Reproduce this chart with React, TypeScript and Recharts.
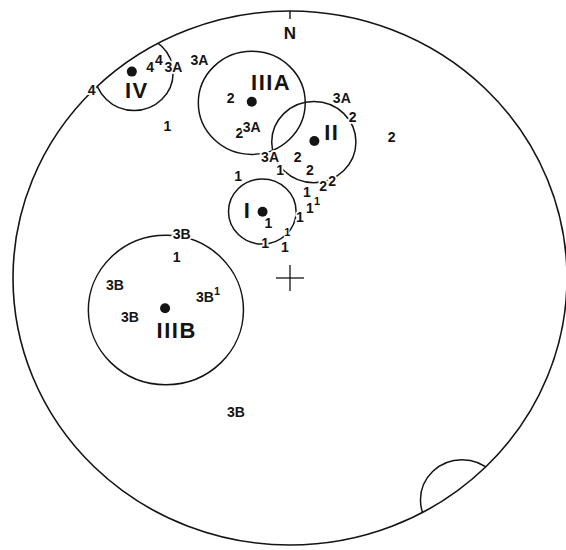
import { ScatterChart, Scatter, XAxis, YAxis } from "recharts";

// stereonet units: primitive radius = 100, centre = (0, 0)
const NET = [{ x: 0, y: 0, r: 100 }];

// small circles (cones) round each group
const CONE_X = [-13.8, 8.6, -10.0, -44.8, -56.3, 62.1];
const CONE_Y = [65.6, 50.9, 24.9, -12.0, 76.8, -83.1];
const CONE_R = [19.3, 15.2, 12.2, 28.0, 14.1, 15.0];

// mean poles
const POLE_X = [-13.8, 8.8, -9.9, -45.1, -57.1];
const POLE_Y = [66.0, 51.3, 24.8, -11.3, 77.3];

const GROUP_NAMES = ["IIIA", "II", "I", "IIIB", "IV"];
const GROUP_X = [-6.8, 15.1, -15.3, -40.9, -55.3];
const GROUP_Y = [73.5, 54.8, 25.5, -19.5, 70.4];

// individual sample labels
const SAMPLE_TEXT = [
  "4", "4", "3A", "3A", "4", "1", "2", "2", "3A", "3A", "2", "2",
  "3A", "2", "1", "2", "2", "2", "1", "1", "1", "1", "1",
  "1", "1", "3B", "1", "3B", "3B", "3B", "3B",
];
const SAMPLE_X = [
  -50.5, -47.3, -42.1, -32.7, -71.6, -44.3, -21.4, -18.3, -13.8, 18.7, 22.6, 36.7,
  -7.2, 2.8, -3.6, 7.2, 12.0, 15.2, -18.7, 6.1, 7.2, 3.6, -7.8,
  -1.8, -9.0, -39.1, -40.9, -63.2, -30.7, -57.8, -19.5,
];
const SAMPLE_Y = [
  79.1, 81.6, 79.1, 81.6, 70.4, 56.9, 67.3, 54.2, 56.7, 67.3, 60.4, 52.9,
  45.4, 45.4, 40.4, 40.4, 34.5, 36.5, 38.2, 32.4, 26.1, 23.0, 20.7,
  11.7, 13.2, 16.5, 8.0, -2.6, -7.0, -14.5, -50.2,
];

// small raised "1" marks
const SUP_TEXT = ["1", "1", "1"];
const SUP_X = [9.8, -1.0, -26.3];
const SUP_Y = [28.9, 17.3, -5.0];

const W = 580;
const H = 560;
const M = { top: 11, left: 13, right: 13, bottom: 15 };
const KX = (W - M.left - M.right) / 200;
const KY = (H - M.top - M.bottom) / 200;
const INK = "#141414";
const FONT = "'Liberation Sans', Arial, sans-serif";

const cones = CONE_X.map((x, i) => ({ x, y: CONE_Y[i], r: CONE_R[i] }));
const poles = POLE_X.map((x, i) => ({ x, y: POLE_Y[i] }));
const groups = GROUP_NAMES.map((name, i) => ({ name, x: GROUP_X[i], y: GROUP_Y[i] }));
const samples = SAMPLE_TEXT.map((name, i) => ({ name, x: SAMPLE_X[i], y: SAMPLE_Y[i] }));
const sups = SUP_TEXT.map((name, i) => ({ name, x: SUP_X[i], y: SUP_Y[i] }));
const north = [{ name: "N", x: 0, y: 91.8 }];

const NetShape = (props: any) => {
  const { cx, cy, payload } = props;
  const rx = payload.r * KX;
  const ry = payload.r * KY;
  return (
    <g>
      <defs>
        <clipPath id="net-clip">
          <ellipse cx={cx} cy={cy} rx={rx} ry={ry} />
        </clipPath>
      </defs>
      <ellipse cx={cx} cy={cy} rx={rx} ry={ry} fill="none" stroke={INK} strokeWidth={1.6} />
      <line x1={cx} y1={cy - ry} x2={cx} y2={cy - ry + 8} stroke={INK} strokeWidth={1.4} />
      <line x1={cx - 14} y1={cy} x2={cx + 14} y2={cy} stroke={INK} strokeWidth={1.3} />
      <line x1={cx} y1={cy - 13} x2={cx} y2={cy + 13} stroke={INK} strokeWidth={1.3} />
    </g>
  );
};

const ConeShape = (props: any) => {
  const { cx, cy, payload } = props;
  return (
    <ellipse
      cx={cx}
      cy={cy}
      rx={payload.r * KX}
      ry={payload.r * KY}
      fill="none"
      stroke={INK}
      strokeWidth={1.5}
      clipPath="url(#net-clip)"
    />
  );
};

const PoleShape = (props: any) => <circle cx={props.cx} cy={props.cy} r={5} fill={INK} />;

const makeLabel = (size: number, spacing = 0, halo = 3.5) => (props: any) => {
  const { cx, cy, payload } = props;
  return (
    <text
      x={cx}
      y={cy}
      dy="0.36em"
      textAnchor="middle"
      fontFamily={FONT}
      fontWeight="bold"
      fontSize={size}
      letterSpacing={spacing}
      fill={INK}
      stroke="#fff"
      strokeWidth={halo}
      strokeLinejoin="round"
      paintOrder="stroke"
    >
      {payload.name}
    </text>
  );
};

const SampleLabel = makeLabel(14);
const SupLabel = makeLabel(11, 0, 2);
const GroupLabel = makeLabel(22, 1.5);
const NorthLabel = makeLabel(17);

export default function App() {
  return (
    <div
      style={{
        position: "fixed",
        left: 0,
        top: 0,
        width: 566,
        height: 550,
        overflow: "hidden",
        background: "#fff",
      }}
    >
      <ScatterChart width={W} height={H} margin={M}>
        <XAxis type="number" dataKey="x" domain={[-100, 100]} hide />
        <YAxis type="number" dataKey="y" domain={[-100, 100]} hide />
        <Scatter data={NET} shape={NetShape} isAnimationActive={false} />
        <Scatter data={cones} shape={ConeShape} isAnimationActive={false} />
        <Scatter data={samples} shape={SampleLabel} isAnimationActive={false} />
        <Scatter data={sups} shape={SupLabel} isAnimationActive={false} />
        <Scatter data={groups} shape={GroupLabel} isAnimationActive={false} />
        <Scatter data={north} shape={NorthLabel} isAnimationActive={false} />
        <Scatter data={poles} shape={PoleShape} isAnimationActive={false} />
      </ScatterChart>
    </div>
  );
}
